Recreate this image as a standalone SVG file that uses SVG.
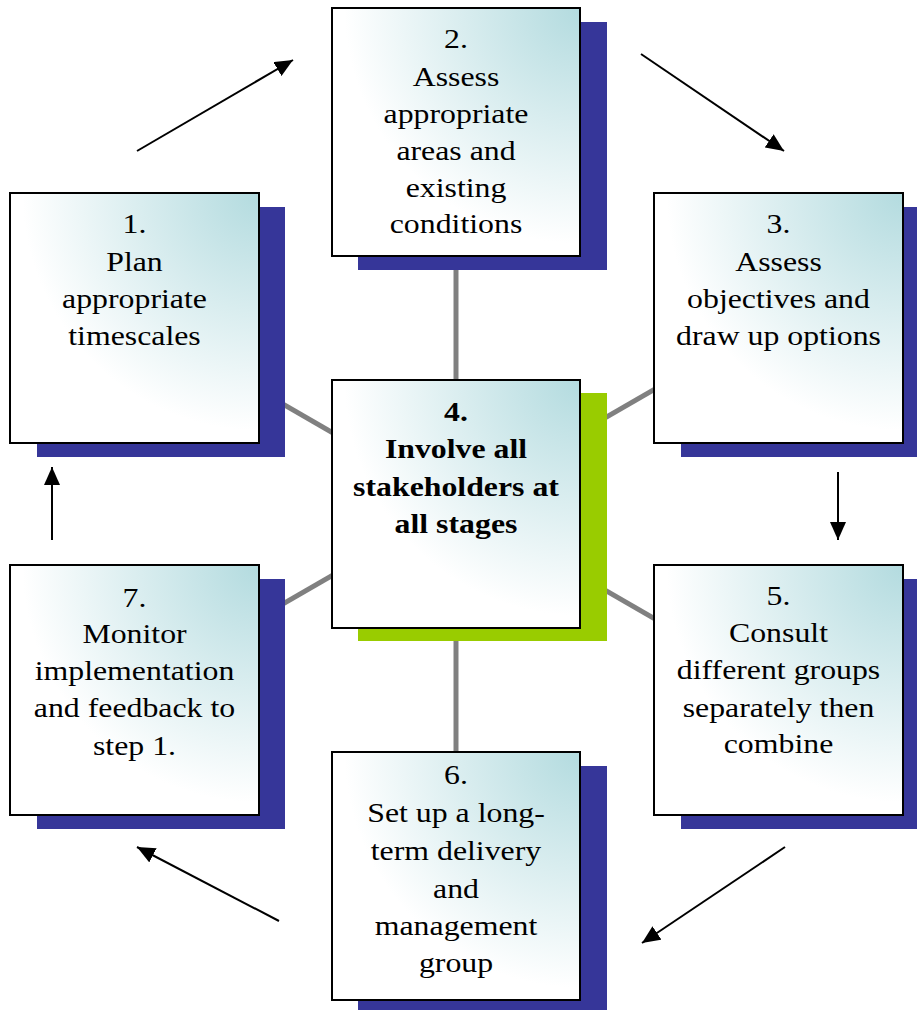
<svg xmlns="http://www.w3.org/2000/svg" width="917" height="1010" viewBox="0 0 917 1010">
<defs>
<radialGradient id="g" cx="1" cy="0" r="1" fx="1" fy="0">
<stop offset="0" stop-color="#b3dbdf"/>
<stop offset="0.95" stop-color="#ffffff"/>
</radialGradient>
<marker id="ah" markerUnits="userSpaceOnUse" markerWidth="20" markerHeight="16" refX="18" refY="8" orient="auto">
<path d="M0,0 L18,8 L0,16 Z" fill="#000"/>
</marker>
<style>
.sh{fill:#363699}
.gr{fill:#99cc00}
.bx{fill:url(#g);stroke:#000;stroke-width:2}
.t{font-family:"Liberation Serif","Times New Roman",serif;font-size:27px;text-anchor:middle;fill:#000}
.b{font-weight:bold}
.hub{stroke:#808080;stroke-width:5;fill:none}
.ar{stroke:#000;stroke-width:2;fill:none;marker-end:url(#ah)}
</style>
</defs>
<rect width="917" height="1010" fill="#fff"/>
<g id="connectors">
<line class="hub" x1="456" y1="256" x2="456" y2="380"/>
<line class="hub" x1="456" y1="628" x2="456" y2="752"/>
<line class="hub" x1="134" y1="318" x2="456" y2="504"/>
<line class="hub" x1="134" y1="690" x2="456" y2="504"/>
<line class="hub" x1="778" y1="318" x2="456" y2="504"/>
<line class="hub" x1="778" y1="690" x2="456" y2="504"/>
<line class="ar" x1="137" y1="151" x2="293" y2="60"/>
<line class="ar" x1="641" y1="54" x2="784" y2="151"/>
<line class="ar" x1="838" y1="472" x2="838" y2="540"/>
<line class="ar" x1="785" y1="847" x2="642" y2="943"/>
<line class="ar" x1="279" y1="921" x2="137" y2="847"/>
<line class="ar" x1="52" y1="540" x2="52" y2="467"/>
</g>
<g id="node1">
<rect class="sh" x="37" y="207" width="248" height="250"/>
<rect class="bx" x="10" y="193" width="249" height="250"/>
<g transform="translate(134.5 0) scale(1.178 1)">
<text class="t" x="0" y="233">1.</text>
<text class="t" x="0" y="271">Plan</text>
<text class="t" x="0" y="308">appropriate</text>
<text class="t" x="0" y="345">timescales</text>
</g>
</g>
<g id="node2">
<rect class="sh" x="358" y="22" width="249" height="248"/>
<rect class="bx" x="332" y="8" width="248" height="248"/>
<g transform="translate(456 0) scale(1.178 1)">
<text class="t" x="0" y="48">2.</text>
<text class="t" x="0" y="86">Assess</text>
<text class="t" x="0" y="123">appropriate</text>
<text class="t" x="0" y="160">areas and</text>
<text class="t" x="0" y="197">existing</text>
<text class="t" x="0" y="233">conditions</text>
</g>
</g>
<g id="node3">
<rect class="sh" x="681" y="207" width="240" height="250"/>
<rect class="bx" x="654" y="193" width="249" height="250"/>
<g transform="translate(778.5 0) scale(1.178 1)">
<text class="t" x="0" y="233">3.</text>
<text class="t" x="0" y="271">Assess</text>
<text class="t" x="0" y="308">objectives and</text>
<text class="t" x="0" y="345">draw up options</text>
</g>
</g>
<g id="node4">
<rect class="gr" x="358" y="393" width="249" height="248"/>
<rect class="bx" x="332" y="380" width="248" height="248"/>
<g transform="translate(456 0) scale(1.178 1)">
<text class="t b" x="0" y="421">4.</text>
<text class="t b" x="0" y="458">Involve all</text>
<text class="t b" x="0" y="496">stakeholders at</text>
<text class="t b" x="0" y="533">all stages</text>
</g>
</g>
<g id="node5">
<rect class="sh" x="681" y="579" width="240" height="250"/>
<rect class="bx" x="654" y="565" width="249" height="250"/>
<g transform="translate(778.5 0) scale(1.178 1)">
<text class="t" x="0" y="605">5.</text>
<text class="t" x="0" y="642">Consult</text>
<text class="t" x="0" y="679">different groups</text>
<text class="t" x="0" y="717">separately then</text>
<text class="t" x="0" y="753">combine</text>
</g>
</g>
<g id="node6">
<rect class="sh" x="358" y="766" width="249" height="248"/>
<rect class="bx" x="332" y="752" width="248" height="248"/>
<g transform="translate(456 0) scale(1.178 1)">
<text class="t" x="0" y="784">6.</text>
<text class="t" x="0" y="822">Set up a long-</text>
<text class="t" x="0" y="860">term delivery</text>
<text class="t" x="0" y="898">and</text>
<text class="t" x="0" y="935">management</text>
<text class="t" x="0" y="972">group</text>
</g>
</g>
<g id="node7">
<rect class="sh" x="37" y="579" width="248" height="250"/>
<rect class="bx" x="10" y="565" width="249" height="250"/>
<g transform="translate(134.5 0) scale(1.178 1)">
<text class="t" x="0" y="607">7.</text>
<text class="t" x="0" y="643">Monitor</text>
<text class="t" x="0" y="680">implementation</text>
<text class="t" x="0" y="717">and feedback to</text>
<text class="t" x="0" y="755">step 1.</text>
</g>
</g>
</svg>
